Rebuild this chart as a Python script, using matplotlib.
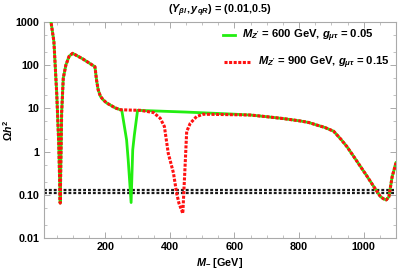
import matplotlib
matplotlib.use("Agg")
import matplotlib.pyplot as plt
from matplotlib.ticker import LogLocator, NullFormatter, MultipleLocator

plt.rcParams['font.family'] = ['Liberation Sans', 'DejaVu Sans']
plt.rcParams['font.weight'] = 'bold'
plt.rcParams['mathtext.fontset'] = 'custom'
plt.rcParams['mathtext.rm'] = 'Liberation Sans:bold'
plt.rcParams['mathtext.it'] = 'Liberation Sans:italic:bold'
plt.rcParams['mathtext.bf'] = 'Liberation Sans:bold'

# Green: M_Z' = 600 GeV, g = 0.05
green_x = [26, 32, 41, 50, 56, 60.5, 65, 70, 78, 88, 99, 130, 168, 173, 178, 185, 194, 205, 215,
           230, 246, 251, 266, 271, 280, 285, 290, 300, 450, 587, 650, 700, 751, 804, 830, 855,
           880, 907, 930, 948, 970, 990, 1010, 1031, 1052, 1062, 1070, 1078, 1088, 1100]
green_y = [1500, 1000, 350, 20, 1.5, 0.064, 8, 50, 100, 160, 188, 140, 92, 45, 27, 19, 15.6, 13.2,
           12, 10.3, 9.3, 9.1, 1.86, 0.64, 0.066, 1.09, 2.4, 9.0, 8.2, 7.4, 7.0, 6.4, 5.8, 5.1,
           4.7, 4.1, 3.6, 2.95, 1.9, 1.3, 0.75, 0.45, 0.27, 0.155, 0.09, 0.08, 0.076, 0.09, 0.26,
           0.55]

# Red: M_Z' = 900 GeV, g = 0.15
red_x = [26, 32, 41, 50, 56, 60.5, 65, 70, 78, 88, 99, 130, 168, 173, 178, 185, 194, 205, 215,
         230, 246, 280, 308, 349, 370, 383, 395, 411, 421, 428, 440, 447, 452, 463, 483, 504,
         560, 650, 700, 751, 804, 830, 855, 880, 907, 930, 948, 970, 990, 1010, 1031, 1052, 1062,
         1070, 1078, 1088, 1100]
red_y = [1500, 1000, 350, 20, 1.5, 0.064, 8, 50, 100, 160, 188, 140, 92, 45, 27, 19, 15.6, 13.2,
         12, 10.3, 9.3, 9.1, 9.0, 8.0, 5.9, 3.8, 0.91, 0.32, 0.108, 0.064, 0.037, 0.45, 2.9, 4.5,
         6.5, 7.3, 7.2, 7.0, 6.4, 5.8, 5.1, 4.7, 4.1, 3.6, 2.95, 1.9, 1.3, 0.75, 0.45, 0.27,
         0.155, 0.09, 0.08, 0.076, 0.09, 0.26, 0.55]

band_levels = [0.112, 0.126]

title = r"$(Y_{\beta l},y_{qR})$ = (0.01,0.5)"
label_green = r"$M_{Z'}$ = 600 GeV, $g_{\mu\tau}$ = 0.05"
label_red = r"$M_{Z'}$ = 900 GeV, $g_{\mu\tau}$ = 0.15"
xticks = [200, 400, 600, 800, 1000]
yticks = [0.01, 0.1, 1, 10, 100, 1000]
yticklabels = ["0.01", "0.10", "1", "10", "100", "1000"]

fig = plt.figure(figsize=(3.99, 2.71), dpi=100)
ax = fig.add_axes([0.110, 0.122, 0.8825, 0.797])

for lv in band_levels:
    ax.axhline(lv, color='#1a1a1a', lw=1.6, ls=(0, (1.3, 0.9)), zorder=2)

lg, = ax.plot(green_x, green_y, color='#22ee11', lw=2.0, zorder=3)
lr, = ax.plot(red_x, red_y, color='#ff1111', lw=2.2, ls=(0, (1.0, 0.5)), zorder=4)

ax.set_yscale('log')
ax.set_xlim(10, 1100)
ax.set_ylim(0.01, 1000)
ax.set_yticks(yticks)
ax.set_yticklabels(yticklabels)
ax.yaxis.set_minor_locator(LogLocator(base=10, subs=(2, 5)))
ax.yaxis.set_minor_formatter(NullFormatter())
ax.set_xticks(xticks)
ax.xaxis.set_minor_locator(MultipleLocator(50))

for s in ax.spines.values():
    s.set_color('#aaaaaa')
    s.set_linewidth(0.8)
ax.tick_params(which='both', direction='in', top=True, right=True, color='#aaaaaa',
               labelsize=7.8, pad=3)
ax.tick_params(which='major', length=4, width=0.7)
ax.tick_params(which='minor', length=2, width=0.5)
for t in ax.get_xticklabels() + ax.get_yticklabels():
    t.set_fontweight('bold')

ax.set_title(title, fontsize=7.8, fontweight='bold', pad=6)
ax.set_xlabel(r"$M_{-}$ [GeV]", fontsize=7.8, fontweight='bold', labelpad=3)
ax.set_ylabel(r"$\Omega h^2$", fontsize=7.6, fontweight='bold')
ax.yaxis.set_label_coords(-0.083, 0.5)

leg1 = ax.legend([lg], [label_green], loc='upper right', bbox_to_anchor=(0.955, 1.003),
                 frameon=False, fontsize=8.1, handlelength=1.07, handletextpad=0.62,
                 borderaxespad=0.2)
ax.add_artist(leg1)
leg2 = ax.legend([lr], [label_red], loc='upper right', bbox_to_anchor=(1.0, 0.878),
                 frameon=False, fontsize=8.1, handlelength=2.4, handletextpad=0.6,
                 borderaxespad=0.2)

fig.savefig('out.png', dpi=100)
